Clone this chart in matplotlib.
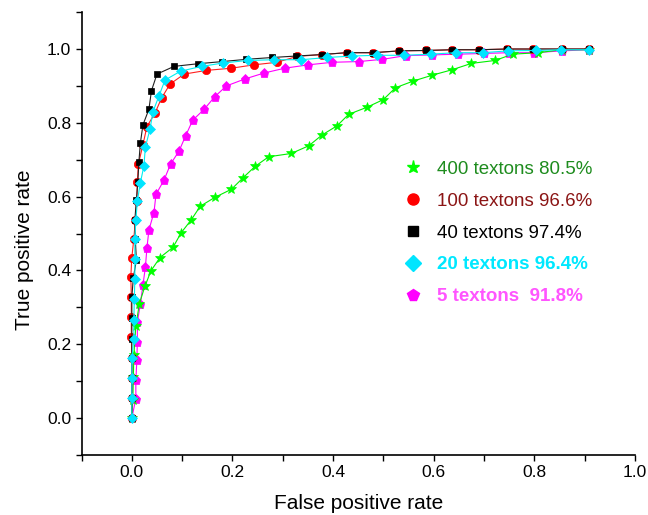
import matplotlib
matplotlib.use("Agg")
import matplotlib.pyplot as plt
from matplotlib.ticker import MultipleLocator

plt.rcParams['font.family'] = ['Liberation Sans', 'DejaVu Sans']

# ROC curves (false positive rate, true positive rate)
fpr_400 = [0.0, 0.002, 0.003, 0.004, 0.008, 0.015, 0.026, 0.038, 0.056, 0.082, 0.098,
           0.118, 0.136, 0.165, 0.198, 0.221, 0.245, 0.272, 0.317, 0.352, 0.378, 0.408,
           0.431, 0.467, 0.500, 0.524, 0.559, 0.597, 0.637, 0.675, 0.722, 0.757, 0.807,
           0.855, 0.909]
tpr_400 = [0.0, 0.05, 0.11, 0.17, 0.25, 0.31, 0.357, 0.399, 0.435, 0.463, 0.502,
           0.537, 0.574, 0.598, 0.620, 0.651, 0.682, 0.708, 0.717, 0.738, 0.767, 0.792,
           0.823, 0.842, 0.863, 0.895, 0.913, 0.929, 0.944, 0.961, 0.969, 0.986, 0.990,
           0.998, 0.998]

fpr_100 = [0.0, 0.0, 0.0, 0.0, -0.001, -0.001, -0.001, -0.002, 0.0, 0.004, 0.007,
           0.010, 0.011, 0.013, 0.022, 0.030, 0.046, 0.059, 0.076, 0.104, 0.148, 0.198,
           0.242, 0.288, 0.329, 0.378, 0.427, 0.480, 0.532, 0.584, 0.637, 0.690, 0.745,
           0.798, 0.855, 0.909]
tpr_100 = [0.0, 0.054, 0.109, 0.163, 0.220, 0.274, 0.328, 0.383, 0.435, 0.486, 0.537,
           0.588, 0.641, 0.688, 0.740, 0.790, 0.826, 0.867, 0.905, 0.932, 0.942, 0.948,
           0.957, 0.964, 0.980, 0.985, 0.990, 0.990, 0.995, 0.996, 0.998, 0.998, 1.0,
           1.0, 1.0, 1.0]

fpr_40 = [0.0, 0.0, 0.0, 0.0, 0.0, 0.0, 0.0, 0.003, 0.009, 0.007, 0.006,
          0.009, 0.012, 0.014, 0.017, 0.022, 0.034, 0.039, 0.050, 0.084, 0.131, 0.180,
          0.227, 0.279, 0.327, 0.378, 0.427, 0.480, 0.532, 0.584, 0.637, 0.690, 0.745,
          0.798, 0.855, 0.909]
tpr_40 = [0.0, 0.054, 0.109, 0.163, 0.215, 0.270, 0.328, 0.380, 0.428, 0.484, 0.537,
          0.590, 0.641, 0.694, 0.745, 0.794, 0.837, 0.887, 0.932, 0.953, 0.960, 0.966,
          0.972, 0.977, 0.981, 0.985, 0.990, 0.990, 0.995, 0.996, 0.998, 0.998, 1.0,
          1.0, 1.0, 1.0]

fpr_20 = [0.0, 0.0, 0.0, 0.0, 0.004, 0.004, 0.005, 0.006, 0.006, 0.006, 0.008,
          0.011, 0.017, 0.024, 0.027, 0.036, 0.042, 0.054, 0.066, 0.097, 0.139, 0.181,
          0.230, 0.283, 0.337, 0.388, 0.438, 0.488, 0.542, 0.594, 0.644, 0.698, 0.748,
          0.803, 0.854, 0.909]
tpr_20 = [0.0, 0.054, 0.109, 0.163, 0.213, 0.267, 0.324, 0.378, 0.431, 0.484, 0.536,
          0.588, 0.638, 0.683, 0.735, 0.782, 0.830, 0.873, 0.916, 0.940, 0.953, 0.962,
          0.969, 0.971, 0.971, 0.977, 0.981, 0.983, 0.983, 0.986, 0.990, 0.990, 0.995,
          0.996, 0.998, 0.998]

fpr_5 = [0.0, 0.008, 0.008, 0.010, 0.011, 0.011, 0.017, 0.022, 0.027, 0.030, 0.034,
         0.044, 0.048, 0.064, 0.077, 0.094, 0.107, 0.121, 0.144, 0.165, 0.188, 0.225,
         0.263, 0.304, 0.350, 0.398, 0.451, 0.498, 0.544, 0.596, 0.649, 0.700, 0.750,
         0.800, 0.855, 0.909]
tpr_5 = [0.0, 0.053, 0.102, 0.157, 0.207, 0.260, 0.310, 0.360, 0.409, 0.461, 0.510,
         0.557, 0.606, 0.645, 0.688, 0.724, 0.765, 0.807, 0.837, 0.871, 0.900, 0.919,
         0.935, 0.948, 0.957, 0.964, 0.966, 0.972, 0.982, 0.984, 0.986, 0.988, 0.990,
         0.990, 0.995, 0.998]

labels = ["400 textons 80.5%", "100 textons 96.6%", "40 textons 97.4%",
          "20 textons 96.4%", "5 textons  91.8%"]

fig = plt.figure(figsize=(6.48, 5.15), dpi=100)
ax = fig.add_axes([0.1258, 0.1165, 0.854, 0.860])

# drawing order: lowest first so the black / cyan sit on top
series = [
    (fpr_5, tpr_5, "#ff00ff", "#ff00ff", "p", 6.5),
    (fpr_400, tpr_400, "#00ee00", "#00ff00", "*", 7.5),
    (fpr_100, tpr_100, "#ff2020", "#ff0000", "o", 6),
    (fpr_40, tpr_40, "#202020", "#000000", "s", 5),
    (fpr_20, tpr_20, "#00f0f0", "#00e5ff", "D", 5),
]
handles = {}
for x, y, lc, mc, m, ms in series:
    h, = ax.plot(x, y, color=lc, lw=0.8, marker=m, ms=ms, mfc=mc, mec=mc, mew=0.5)
    handles[m] = h

order = ["*", "o", "s", "D", "p"]
leg_sizes = [9.5, 8, 7, 8, 8.5]
text_colors = ["#1e8c1e", "#8b1515", "#000000", "#00e8ff", "#ff55ff"]
leg_handles = []
for m, s in zip(order, leg_sizes):
    h = handles[m]
    leg_handles.append(plt.Line2D([], [], ls="none", marker=m, ms=s,
                                  mfc=h.get_mfc(), mec=h.get_mec()))
leg = ax.legend(leg_handles, labels, loc="upper left", bbox_to_anchor=(0.565, 0.686),
                frameon=False, fontsize=13.5, handlelength=1.0, handletextpad=0.8,
                labelspacing=0.79, borderpad=0)
for i, (t, c) in enumerate(zip(leg.get_texts(), text_colors)):
    t.set_color(c)
    if i >= 3:
        t.set_fontweight("bold")

ax.set_xlim(-0.1, 1.0)
ax.set_ylim(-0.1, 1.1)
ax.xaxis.set_minor_locator(MultipleLocator(0.1))
ax.yaxis.set_minor_locator(MultipleLocator(0.1))
ax.set_xticks([0.0, 0.2, 0.4, 0.6, 0.8, 1.0])
ax.set_yticks([0.0, 0.2, 0.4, 0.6, 0.8, 1.0])
ax.tick_params(which="both", direction="out", length=4, width=1, labelsize=12.5)
for s in ["top", "right"]:
    ax.spines[s].set_visible(False)
for s in ["left", "bottom"]:
    ax.spines[s].set_linewidth(1.2)

ax.set_xlabel("False positive rate", fontsize=15)
ax.set_ylabel("True positive rate", fontsize=15)
ax.xaxis.set_label_coords(0.5, -0.087)
ax.yaxis.set_label_coords(-0.085, 0.463)

fig.savefig("out.png", dpi=100)
